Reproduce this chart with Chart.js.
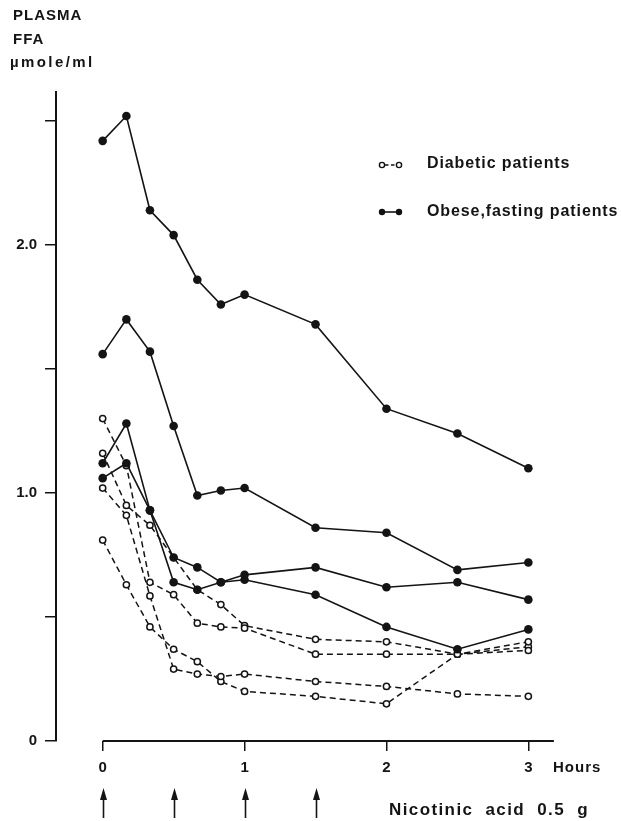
<!DOCTYPE html>
<html>
<head>
<meta charset="utf-8">
<script src="https://cdn.jsdelivr.net/npm/chart.js@4.4.1/dist/chart.umd.min.js"></script>
<style>
  html, body { margin: 0; padding: 0; background: #fff; }
  #fig { position: relative; width: 621px; height: 821px; overflow: hidden; background: #fff; }
  #fig canvas { position: absolute; left: 0; top: 0; }
  .lbl { position: absolute; font-family: 'Liberation Sans', Arial, sans-serif; font-weight: bold;
         color: #141414; white-space: nowrap; }
  .key { position: absolute; }
</style>
</head>
<body>
<div id="fig">
  <canvas id="ffa" width="621" height="821"></canvas>

  <div class="lbl" style="left:13px;top:7px;font-size:15px;line-height:15px;letter-spacing:1px">PLASMA</div>
  <div class="lbl" style="left:13px;top:31px;font-size:15px;line-height:15px;letter-spacing:1px">FFA</div>
  <div class="lbl" style="left:10px;top:54px;font-size:15px;line-height:15px;letter-spacing:2.4px">µmole/ml</div>

  <svg class="key" style="left:376px;top:158px" width="30" height="14">
    <line x1="9" y1="7" x2="21" y2="7" stroke="#111" stroke-width="1.5" stroke-dasharray="3.5,2.5"/>
    <circle cx="6" cy="7" r="2.6" fill="#fff" stroke="#111" stroke-width="1.4"/>
    <circle cx="23" cy="7" r="2.6" fill="#fff" stroke="#111" stroke-width="1.4"/>
  </svg>
  <div class="lbl" style="left:427px;top:155px;font-size:16px;line-height:16px;letter-spacing:0.9px">Diabetic patients</div>

  <svg class="key" style="left:376px;top:205px" width="30" height="14">
    <line x1="6" y1="7" x2="23" y2="7" stroke="#111" stroke-width="1.6"/>
    <circle cx="6" cy="7" r="3.2" fill="#111"/>
    <circle cx="23" cy="7" r="3.2" fill="#111"/>
  </svg>
  <div class="lbl" style="left:427px;top:203px;font-size:16px;line-height:16px;letter-spacing:0.9px">Obese,fasting patients</div>

  <div class="lbl" style="left:553px;top:759px;font-size:15px;line-height:15px;letter-spacing:1px">Hours</div>
  <div class="lbl" style="left:389px;top:801px;font-size:17px;line-height:17px;letter-spacing:1.4px;word-spacing:6px">Nicotinic acid 0.5 g</div>
</div>

<script>
// Sampling times (hours after the first dose)
const sampleHours = [0, 0.167, 0.333, 0.5, 0.667, 0.833, 1, 1.5, 2, 2.5, 3];

// Plasma FFA, µmole/ml — obese, fasting patients
const obese1 = [2.42, 2.52, 2.14, 2.04, 1.86, 1.76, 1.80, 1.68, 1.34, 1.24, 1.10];
const obese2 = [1.56, 1.70, 1.57, 1.27, 0.99, 1.01, 1.02, 0.86, 0.84, 0.69, 0.72];
const obese3 = [1.12, 1.28, 0.93, 0.64, 0.61, 0.64, 0.67, 0.70, 0.62, 0.64, 0.57];
const obese4 = [1.06, 1.12, 0.93, 0.74, 0.70, 0.64, 0.65, 0.59, 0.46, 0.37, 0.45];

// Plasma FFA, µmole/ml — diabetic patients
const diabetic1 = [1.30, 1.11, 0.64, 0.59, 0.475, 0.46, 0.455, 0.35, 0.35, 0.35, 0.365];
const diabetic2 = [1.16, 0.95, 0.87, 0.74, 0.61, 0.55, 0.465, 0.41, 0.40, 0.35, 0.40];
const diabetic3 = [1.02, 0.91, 0.585, 0.29, 0.27, 0.26, 0.27, 0.24, 0.22, 0.19, 0.18];
const diabetic4 = [0.81, 0.63, 0.46, 0.37, 0.32, 0.24, 0.20, 0.18, 0.15, 0.35, 0.38];

// Axis ticks
const xTickValues = [0, 1, 2, 3];
const xTickLabels = ['0', '1', '2', '3'];
const yTickValues = [0, 0.5, 1, 1.5, 2, 2.5];
const yTickLabels = ['0', '', '1.0', '', '2.0', ''];

// Times of the 0.5 g nicotinic acid doses
const doseHours = [0, 0.5, 1, 1.5];

// Axis extents
const hourMin = -0.329, hourMax = 3.223, hourAxisEnd = 3.18;
const ffaMin = 0, ffaMax = 2.617;

const INK = '#141414';
const FONT = "'Liberation Sans', Arial, sans-serif";

const toPoints = vals => vals.map((v, i) => ({ x: sampleHours[i], y: v }));

const obeseStyle = {
  borderColor: INK, borderWidth: 1.6, tension: 0, fill: false,
  pointRadius: 4.3, pointBackgroundColor: INK, pointBorderColor: INK, pointBorderWidth: 0
};
const diabeticStyle = {
  borderColor: INK, borderWidth: 1.5, borderDash: [6, 4], tension: 0, fill: false,
  pointRadius: 3.1, pointBackgroundColor: '#fff', pointBorderColor: INK, pointBorderWidth: 1.5
};

const datasets = [
  ...[obese1, obese2, obese3, obese4].map((s, i) =>
    Object.assign({ label: 'Obese, fasting ' + (i + 1), data: toPoints(s) }, obeseStyle)),
  ...[diabetic1, diabetic2, diabetic3, diabetic4].map((s, i) =>
    Object.assign({ label: 'Diabetic ' + (i + 1), data: toPoints(s) }, diabeticStyle))
];

// Partial hour axis (starts at 0 h) and the dose arrows beneath it
const hourAxis = {
  id: 'hourAxis',
  beforeDatasetsDraw(chart) {
    const { ctx, scales: { x, y } } = chart;
    const y0 = y.getPixelForValue(0);
    ctx.save();
    ctx.strokeStyle = INK;
    ctx.fillStyle = INK;
    ctx.lineWidth = 2;
    ctx.beginPath();
    ctx.moveTo(x.getPixelForValue(0), y0);
    ctx.lineTo(x.getPixelForValue(hourAxisEnd), y0);
    ctx.stroke();

    ctx.lineWidth = 1.6;
    doseHours.forEach(h => {
      const px = Math.round(x.getPixelForValue(h)) + 0.5;
      ctx.beginPath();
      ctx.moveTo(px, 798);
      ctx.lineTo(px, 818);
      ctx.stroke();
      ctx.beginPath();
      ctx.moveTo(px, 788);
      ctx.lineTo(px - 3.5, 800);
      ctx.lineTo(px + 3.5, 800);
      ctx.closePath();
      ctx.fill();
    });
    ctx.restore();
  }
};

new Chart(document.getElementById('ffa'), {
  type: 'line',
  data: { datasets },
  plugins: [hourAxis],
  options: {
    responsive: false,
    animation: false,
    devicePixelRatio: 1,
    events: [],
    layout: { padding: { left: 0, top: 92, right: 61, bottom: 0 } },
    plugins: { legend: { display: false }, tooltip: { enabled: false } },
    scales: {
      x: {
        type: 'linear', position: 'bottom', min: hourMin, max: hourMax,
        afterBuildTicks: s => { s.ticks = xTickValues.map(v => ({ value: v })); },
        afterFit: s => { s.height = 80; },
        border: { display: false },
        grid: { drawOnChartArea: false, drawTicks: true, tickLength: 10, color: INK, lineWidth: 1.5 },
        ticks: {
          callback: v => xTickLabels[xTickValues.indexOf(v)],
          color: INK, padding: 8, maxRotation: 0, autoSkip: false,
          font: { family: FONT, weight: 'bold', size: 15 }
        }
      },
      y: {
        type: 'linear', position: 'left', min: ffaMin, max: ffaMax,
        afterBuildTicks: s => { s.ticks = yTickValues.map(v => ({ value: v })); },
        afterFit: s => { s.width = 56; },
        border: { display: true, color: INK, width: 2 },
        grid: { drawOnChartArea: false, drawTicks: true, tickLength: 11, color: INK, lineWidth: 1.5 },
        ticks: {
          callback: v => yTickLabels[yTickValues.indexOf(v)],
          color: INK, padding: 8, autoSkip: false,
          font: { family: FONT, weight: 'bold', size: 15 }
        }
      }
    }
  }
});
</script>
</body>
</html>
